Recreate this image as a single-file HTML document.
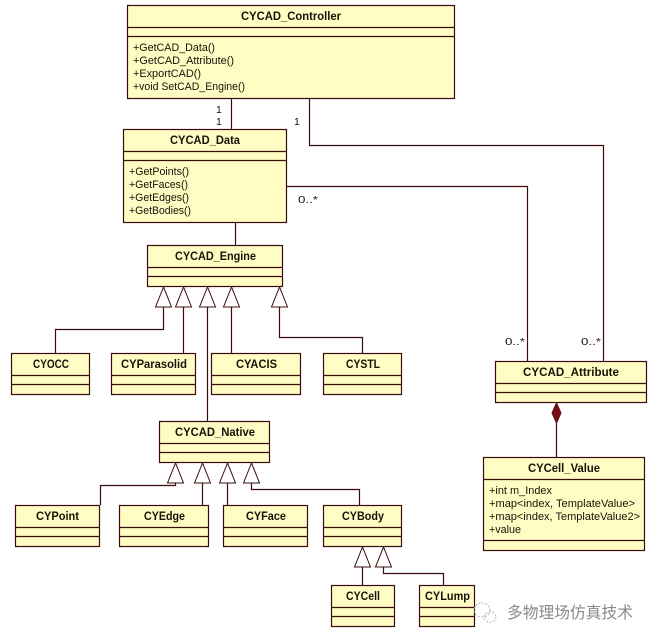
<!DOCTYPE html>
<html>
<head>
<meta charset="utf-8">
<style>
html,body{margin:0;padding:0;background:#fff;width:654px;height:641px;overflow:hidden}
svg{display:block}
.b{fill:#fffcc4;stroke:#3a0c0e;stroke-width:1.2}
.l{fill:none;stroke:#3a0c0e;stroke-width:1.2}
.t{fill:#fff;stroke:#3a0c0e;stroke-width:1}
text{font-family:"Liberation Sans",sans-serif;fill:#1a1208}
.h{font-size:11.5px;font-weight:bold}
.m{font-size:11px}
.n{font-family:"DejaVu Sans",sans-serif;font-size:10.5px}
.w{font-family:"Liberation Sans","Noto Sans CJK SC",sans-serif;font-size:16px;fill:#8a8a8a}
</style>
</head>
<body>
<svg width="654" height="641" viewBox="0 0 654 641" xmlns="http://www.w3.org/2000/svg">
<!-- connectors -->
<path class="l" d="M231.5 98V129M309.5 98V145.5H603.5V361M286 186.5H527.5V361M235.5 222V245"/>
<path class="l" d="M163.5 307V329.5H55.5V353M183.5 307V353M207.5 307V421M231.5 307V353M279.5 307V337.5H362.5V353"/>
<path class="l" d="M175.5 483V485.5H100.5V505M202.5 483V505M227.5 483V505M251.5 483V489.5H359.5V505"/>
<path class="l" d="M362.5 567V585M383.5 567V573.5H443.5V585M556.5 422V457"/>
<!-- triangles -->
<path class="t" d="M163.5 287L155.5 307H171.5ZM183.5 287L175.5 307H191.5ZM207.5 287L199.5 307H215.5ZM231.5 287L223.5 307H239.5ZM279.5 287L271.5 307H287.5Z"/>
<path class="t" d="M175.5 463L167.5 483H183.5ZM202.5 463L194.5 483H210.5ZM227.5 463L219.5 483H235.5ZM251.5 463L243.5 483H259.5Z"/>
<path class="t" d="M362.5 547L354.5 567H370.5ZM383.5 547L375.5 567H391.5Z"/>
<path d="M556.5 403L561 413L556.5 423L552 413Z" fill="#7a0a14" stroke="#5a0a10"/>
<!-- boxes -->
<g>
<rect class="b" x="127.5" y="5.5" width="327" height="93"/><path class="l" d="M127.5 27.5H454.5M127.5 36.5H454.5"/>
<rect class="b" x="123.5" y="129.5" width="163" height="93"/><path class="l" d="M123.5 151.5H286.5M123.5 160.5H286.5"/>
<rect class="b" x="147.5" y="245.5" width="135" height="41"/><path class="l" d="M147.5 267.5H282.5M147.5 276.5H282.5"/>
<rect class="b" x="11.5" y="353.5" width="78" height="41"/><path class="l" d="M11.5 375.5H89.5M11.5 384.5H89.5"/>
<rect class="b" x="111.5" y="353.5" width="84" height="41"/><path class="l" d="M111.5 375.5H195.5M111.5 384.5H195.5"/>
<rect class="b" x="211.5" y="353.5" width="89" height="41"/><path class="l" d="M211.5 375.5H300.5M211.5 384.5H300.5"/>
<rect class="b" x="323.5" y="353.5" width="78" height="41"/><path class="l" d="M323.5 375.5H401.5M323.5 384.5H401.5"/>
<rect class="b" x="159.5" y="421.5" width="110" height="41"/><path class="l" d="M159.5 443.5H269.5M159.5 452.5H269.5"/>
<rect class="b" x="15.5" y="505.5" width="84" height="41"/><path class="l" d="M15.5 527.5H99.5M15.5 536.5H99.5"/>
<rect class="b" x="119.5" y="505.5" width="89" height="41"/><path class="l" d="M119.5 527.5H208.5M119.5 536.5H208.5"/>
<rect class="b" x="223.5" y="505.5" width="84" height="41"/><path class="l" d="M223.5 527.5H307.5M223.5 536.5H307.5"/>
<rect class="b" x="323.5" y="505.5" width="78" height="41"/><path class="l" d="M323.5 527.5H401.5M323.5 536.5H401.5"/>
<rect class="b" x="331.5" y="585.5" width="63" height="41"/><path class="l" d="M331.5 607.5H394.5M331.5 616.5H394.5"/>
<rect class="b" x="419.5" y="585.5" width="55" height="41"/><path class="l" d="M419.5 607.5H474.5M419.5 616.5H474.5"/>
<rect class="b" x="495.5" y="361.5" width="151" height="41"/><path class="l" d="M495.5 383.5H646.5M495.5 392.5H646.5"/>
<rect class="b" x="483.5" y="457.5" width="161" height="93"/><path class="l" d="M483.5 479.5H644.5M483.5 540.5H644.5"/>
</g>
<!-- titles -->
<g class="h">
<text x="241" y="20" textLength="100" lengthAdjust="spacingAndGlyphs">CYCAD_Controller</text>
<text x="170" y="144" textLength="70" lengthAdjust="spacingAndGlyphs">CYCAD_Data</text>
<text x="175" y="260" textLength="81" lengthAdjust="spacingAndGlyphs">CYCAD_Engine</text>
<text x="33" y="368" textLength="36" lengthAdjust="spacingAndGlyphs">CYOCC</text>
<text x="121" y="368" textLength="66" lengthAdjust="spacingAndGlyphs">CYParasolid</text>
<text x="236" y="368" textLength="41" lengthAdjust="spacingAndGlyphs">CYACIS</text>
<text x="346" y="368" textLength="34" lengthAdjust="spacingAndGlyphs">CYSTL</text>
<text x="175" y="436" textLength="80" lengthAdjust="spacingAndGlyphs">CYCAD_Native</text>
<text x="36" y="520" textLength="43" lengthAdjust="spacingAndGlyphs">CYPoint</text>
<text x="144" y="520" textLength="41" lengthAdjust="spacingAndGlyphs">CYEdge</text>
<text x="246" y="520" textLength="40" lengthAdjust="spacingAndGlyphs">CYFace</text>
<text x="342" y="520" textLength="42" lengthAdjust="spacingAndGlyphs">CYBody</text>
<text x="346" y="600" textLength="34" lengthAdjust="spacingAndGlyphs">CYCell</text>
<text x="425" y="600" textLength="45" lengthAdjust="spacingAndGlyphs">CYLump</text>
<text x="523" y="376" textLength="96" lengthAdjust="spacingAndGlyphs">CYCAD_Attribute</text>
<text x="528" y="472" textLength="72" lengthAdjust="spacingAndGlyphs">CYCell_Value</text>
</g>
<!-- members -->
<g class="m">
<text x="133" y="51" textLength="82" lengthAdjust="spacingAndGlyphs">+GetCAD_Data()</text>
<text x="133" y="64" textLength="101" lengthAdjust="spacingAndGlyphs">+GetCAD_Attribute()</text>
<text x="133" y="77" textLength="68" lengthAdjust="spacingAndGlyphs">+ExportCAD()</text>
<text x="133" y="90" textLength="112" lengthAdjust="spacingAndGlyphs">+void SetCAD_Engine()</text>
<text x="129" y="175" textLength="60" lengthAdjust="spacingAndGlyphs">+GetPoints()</text>
<text x="129" y="188" textLength="59" lengthAdjust="spacingAndGlyphs">+GetFaces()</text>
<text x="129" y="201" textLength="60" lengthAdjust="spacingAndGlyphs">+GetEdges()</text>
<text x="129" y="214" textLength="62" lengthAdjust="spacingAndGlyphs">+GetBodies()</text>
<text x="489" y="494" textLength="63" lengthAdjust="spacingAndGlyphs">+int m_Index</text>
<text x="489" y="507" textLength="146" lengthAdjust="spacingAndGlyphs">+map&lt;index, TemplateValue&gt;</text>
<text x="489" y="520" textLength="151" lengthAdjust="spacingAndGlyphs">+map&lt;index, TemplateValue2&gt;</text>
<text x="489" y="533" textLength="32" lengthAdjust="spacingAndGlyphs">+value</text>
</g>
<!-- multiplicities -->
<g class="n">
<text x="216" y="113">1</text>
<text x="216" y="125">1</text>
<text x="294" y="125">1</text>
<text x="298" y="203" textLength="20" lengthAdjust="spacingAndGlyphs">0..*</text>
<text x="505" y="345" textLength="20" lengthAdjust="spacingAndGlyphs">0..*</text>
<text x="581" y="345" textLength="20" lengthAdjust="spacingAndGlyphs">0..*</text>
</g>
<!-- watermark -->
<g fill="none" stroke="#b5b5b5" stroke-width="1" stroke-dasharray="2 1.5">
<ellipse cx="482" cy="610" rx="8" ry="7"/>
<ellipse cx="490" cy="617" rx="6" ry="5"/>
</g>
<text class="w" x="507" y="618" textLength="126" lengthAdjust="spacingAndGlyphs">多物理场仿真技术</text>
</svg>
</body>
</html>
